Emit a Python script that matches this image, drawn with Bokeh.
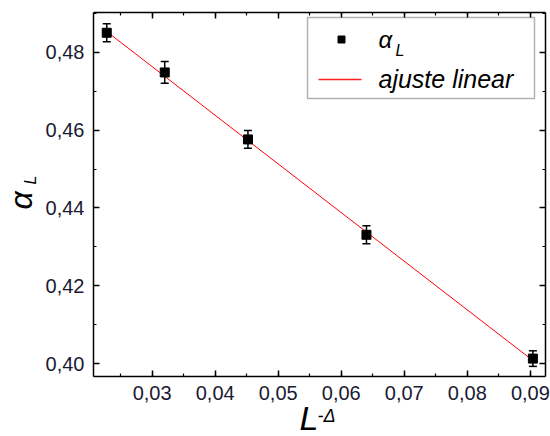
import math
from bokeh.plotting import figure
from bokeh.models import (Whisker, ColumnDataSource, LinearAxis, SingleIntervalTicker,
                          CustomJSTickFormatter, BoxAnnotation, Label, Range1d)
from bokeh.embed import file_html
from bokeh.resources import INLINE

# data
x_vals = [0.0228, 0.0320, 0.0452, 0.0640, 0.0904]
alpha_L = [0.4850, 0.4748, 0.4576, 0.4331, 0.4013]
alpha_err = [0.0023, 0.0028, 0.0023, 0.0023, 0.0020]
fit_x = [0.0228, 0.0904]
fit_y = [0.4853, 0.4008]

# axis limits of the plotting box
X0, X1 = 0.0207, 0.0924
Y0, Y1 = 0.3967, 0.4902
W, H = 550, 436
FL, FR, FT, FB = 93, 545, 12, 376   # box edges in pixels

XS = (X1 - X0) / (FR - FL)
YS = (Y1 - Y0) / (FB - FT)

def px(sx):
    return X0 + (sx - FL) * XS

def py(sy):
    return Y1 - (sy - FT) * YS

FONT = "Liberation Sans"

# the frame spans the whole canvas; axes are drawn at fixed locations
p = figure(width=W, height=H, output_backend="svg", toolbar_location=None,
           x_range=Range1d(px(0), px(W)), y_range=Range1d(py(H), py(0)),
           x_axis_location=None, y_axis_location=None, min_border=0)
p.grid.visible = False
p.outline_line_color = None
p.background_fill_color = "white"
p.border_fill_color = "white"

fmt2 = CustomJSTickFormatter(code="return tick.toFixed(2).replace('.', ',');")
fmt_none = CustomJSTickFormatter(code="return '';")

def mk_axis(interval, labels, loc, bounds, standoff=9):
    ax = LinearAxis(ticker=SingleIntervalTicker(interval=interval, num_minor_ticks=2),
                    fixed_location=loc, bounds=bounds)
    ax.axis_line_width = 1.5
    ax.major_tick_in = 6
    ax.major_tick_out = 0
    ax.minor_tick_in = 3
    ax.minor_tick_out = 0
    ax.major_tick_line_width = 1.5
    ax.minor_tick_line_width = 1.2
    if labels:
        ax.formatter = fmt2
        ax.major_label_text_font = FONT
        ax.major_label_text_font_size = "20px"
        ax.major_label_text_color = "#1a1a33"
        ax.major_label_standoff = standoff
    else:
        ax.formatter = fmt_none
    return ax

p.add_layout(mk_axis(0.01, True, Y0, (X0, X1), 9), "below")
p.add_layout(mk_axis(0.02, True, X0, (Y0, Y1), 9), "left")
p.add_layout(mk_axis(0.01, False, Y1, (X0, X1)), "above")
p.add_layout(mk_axis(0.02, False, X1, (Y0, Y1)), "right")

# fit line
p.line(fit_x, fit_y, line_color="red", line_width=1)

# error bars
src = ColumnDataSource(dict(x=x_vals, y=alpha_L,
                            lo=[v - e for v, e in zip(alpha_L, alpha_err)],
                            hi=[v + e for v, e in zip(alpha_L, alpha_err)]))
w = Whisker(base="x", lower="lo", upper="hi", source=src, line_color="black", line_width=1.5)
w.upper_head.size = 8
w.lower_head.size = 8
w.upper_head.line_width = 1.5
w.lower_head.line_width = 1.5
p.add_layout(w)
p.scatter("x", "y", source=src, marker="square", size=9, color="black")

# legend box
p.add_layout(BoxAnnotation(left=px(307), right=px(534), top=py(17), bottom=py(98),
                           fill_color="white", fill_alpha=1, line_color="black",
                           line_width=1.5, level="annotation"))
p.scatter([px(341)], [py(39)], marker="square", size=7, color="black", level="overlay")
p.line([px(318), px(361)], [py(79), py(79)], line_color="#ff2020", line_width=1.5, level="overlay")

def lab(text, sx, sy, size, angle=0.0):
    # (sx, sy): left end of the text, vertical middle of its line box
    p.add_layout(Label(x=px(sx), y=py(sy), text=text, text_font=FONT,
                       text_font_size=size, text_font_style="italic",
                       text_baseline="middle", text_align="left", angle=angle,
                       text_color="black", level="overlay"))

lab("α", 378, 39, "24px")
lab("L", 395, 50, "16px")
lab("ajuste linear", 378, 78, "25px")

# x axis title
lab("L", 299, 417, "34px")
lab("-Δ", 317, 415, "18px")

# y axis title (rotated)
lab("α", 20, 209, "32px", angle=math.pi / 2)
lab("L", 30, 184, "16px", angle=math.pi / 2)

open("out.html", "w").write(file_html(p, INLINE))
